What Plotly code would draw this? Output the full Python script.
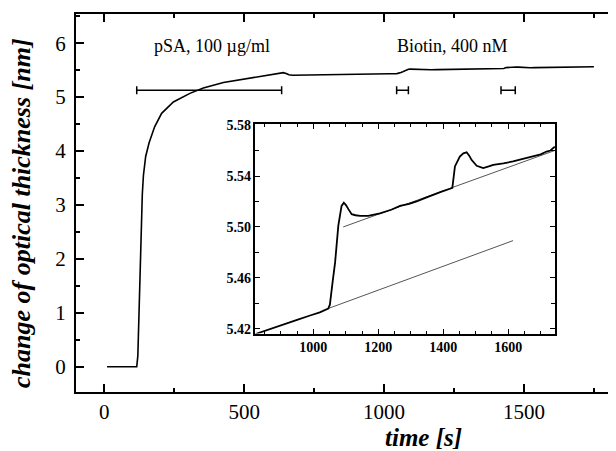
import numpy as np
import plotly.graph_objects as go

# ---- data ----
time_s = [10, 116, 120, 124, 128, 132, 136, 140, 148, 160, 180, 205, 247, 306, 354, 426,
          500, 560, 610, 630, 640, 650, 660, 672, 720, 780, 822, 870, 908, 950, 990, 1020,
          1046, 1051, 1060, 1067, 1077, 1087, 1094, 1101, 1108, 1118, 1130, 1144, 1169,
          1190, 1205, 1240, 1267, 1295, 1318, 1345, 1369, 1395, 1421, 1428, 1436, 1451,
          1462, 1472, 1480, 1487, 1503, 1523, 1540, 1554, 1585, 1615, 1645, 1677, 1700,
          1718, 1730, 1741, 1750]
thickness_nm = [0.0, 0.0, 0.2, 0.9, 1.9, 2.7, 3.2, 3.55, 3.9, 4.15, 4.45, 4.7, 4.91, 5.07,
                5.17, 5.27, 5.33, 5.38, 5.42, 5.44, 5.455, 5.44, 5.415, 5.405, 5.407,
                5.410, 5.416, 5.420, 5.423, 5.427, 5.4305, 5.433, 5.436, 5.439, 5.458,
                5.472, 5.501, 5.5165, 5.519, 5.517, 5.514, 5.510, 5.5092, 5.5087, 5.5087,
                5.5098, 5.5107, 5.5135, 5.5165, 5.5182, 5.520, 5.5228, 5.5255, 5.5278,
                5.530, 5.5307, 5.5475, 5.5553, 5.5578, 5.5586, 5.556, 5.5527, 5.548,
                5.5462, 5.5475, 5.5488, 5.550, 5.5514, 5.5535, 5.5558, 5.5570, 5.5592,
                5.5600, 5.5625, 5.563]

fit1_t = [1046, 1615]
fit1_y = [5.436, 5.4893]
fit2_t = [1092, 1754]
fit2_y = [5.500, 5.561]

bar_start = [116, 1045, 1418]
bar_end = [634, 1087, 1469]
bar_level = [5.13, 5.13, 5.13]

label_text = ["pSA, 100 µg/ml", "Biotin, 400 nM"]
label_x = [385, 1243]
label_y = [5.95, 5.95]

main_xticks = [0, 500, 1000, 1500]
main_yticks = [0, 1, 2, 3, 4, 5, 6]
inset_xticks = [1000, 1200, 1400, 1600]
inset_yticks = [5.42, 5.46, 5.50, 5.54, 5.58]

SERIF = "Liberation Serif"

fig = go.Figure()

# main curve
fig.add_trace(go.Scatter(x=time_s, y=thickness_nm, mode="lines",
                         line=dict(color="black", width=1.6),
                         xaxis="x", yaxis="y", showlegend=False, hoverinfo="skip"))

# injection bars
bs = np.array(bar_start, float)
be = np.array(bar_end, float)
fig.add_trace(go.Scatter(x=(bs + be) / 2, y=bar_level, mode="markers",
                         marker=dict(size=1, color="rgba(0,0,0,0)"),
                         error_x=dict(type="data", array=(be - bs) / 2, color="black",
                                      thickness=1.5, width=4),
                         xaxis="x", yaxis="y", showlegend=False, hoverinfo="skip"))

# right-side ticks helper
fig.add_trace(go.Scatter(x=[time_s[0]], y=[thickness_nm[0]], mode="markers",
                         marker=dict(size=1, color="rgba(0,0,0,0)"),
                         xaxis="x", yaxis="y2", showlegend=False, hoverinfo="skip"))

# inset
fig.add_trace(go.Scatter(x=fit1_t, y=fit1_y, mode="lines",
                         line=dict(color="#555555", width=1),
                         xaxis="x2", yaxis="y3", showlegend=False, hoverinfo="skip"))
fig.add_trace(go.Scatter(x=fit2_t, y=fit2_y, mode="lines",
                         line=dict(color="#555555", width=1),
                         xaxis="x2", yaxis="y3", showlegend=False, hoverinfo="skip"))
fig.add_trace(go.Scatter(x=time_s, y=thickness_nm, mode="lines",
                         line=dict(color="black", width=1.8),
                         xaxis="x2", yaxis="y3", showlegend=False, hoverinfo="skip"))

axis_common = dict(showline=True, linecolor="black", showgrid=False, zeroline=False,
                   ticks="inside", tickcolor="black")

# the page body adds an 8px offset, so the figure is 8px smaller on each far side
fig.update_layout(
    width=608, height=443,
    margin=dict(l=68, r=0, t=4, b=59),
    paper_bgcolor="white", plot_bgcolor="white",
    showlegend=False,
    xaxis=dict(domain=[0, 1], range=[-101, 1829], anchor="y",
               linewidth=2, mirror="ticks", ticklen=8, tickwidth=1.5,
               tickvals=main_xticks,
               minor=dict(dtick=250, tick0=0, ticklen=4, tickwidth=1.5,
                          tickcolor="black", ticks="inside"),
               tickfont=dict(family=SERIF, size=21, color="black"),
               **axis_common),
    yaxis=dict(domain=[0, 1], range=[-0.469, 6.542], anchor="x",
               linewidth=2, ticklen=8, tickwidth=1.5,
               tickvals=main_yticks,
               minor=dict(dtick=0.5, tick0=0, ticklen=4, tickwidth=1.5,
                          tickcolor="black", ticks="inside"),
               tickfont=dict(family=SERIF, size=21, color="black"),
               ticklabelstandoff=4,
               **axis_common),
    yaxis2=dict(overlaying="y", side="right", anchor="x", range=[-0.469, 6.542],
                showline=False, showgrid=False, zeroline=False, ticks="inside",
                ticklen=4, tickwidth=1.5, tickcolor="black", tickvals=main_yticks,
                showticklabels=False),
    xaxis2=dict(domain=[0.3324, 0.887], range=[822, 1744], anchor="y3",
                linewidth=1.5, mirror="ticks", ticklen=5, tickwidth=1.2,
                tickvals=inset_xticks,
                minor=dict(dtick=50, tick0=0, ticklen=3, tickwidth=1.2,
                           tickcolor="black", ticks="inside"),
                tickfont=dict(family=SERIF, size=14, color="black", weight="bold"),
                **axis_common),
    yaxis3=dict(domain=[0.1545, 0.7079], range=[5.4163, 5.5805], anchor="x2",
                linewidth=1.5, mirror="ticks", ticklen=5, tickwidth=1.2,
                tickvals=inset_yticks, tickformat=".2f",
                minor=dict(dtick=0.02, tick0=5.42, ticklen=4, tickwidth=1.2,
                           tickcolor="black", ticks="inside"),
                tickfont=dict(family=SERIF, size=14, color="black", weight="bold"),
                **axis_common),
)

for t, xx, yy in zip(label_text, label_x, label_y):
    fig.add_annotation(x=xx, y=yy, xref="x", yref="y", text=t, showarrow=False,
                       font=dict(family=SERIF, size=18, color="black"),
                       xanchor="center", yanchor="middle")

fig.add_annotation(x=-0.1, y=0.4737, xref="paper", yref="paper",
                   text="change of optical thickness [nm]", textangle=-90,
                   showarrow=False, xanchor="center", yanchor="middle",
                   font=dict(family=SERIF, size=26, color="black",
                             weight="bold", style="italic"))
fig.add_annotation(x=0.644, y=-0.121, xref="paper", yref="paper",
                   text="time [s]", showarrow=False, xanchor="center", yanchor="middle",
                   font=dict(family=SERIF, size=25, color="black",
                             weight="bold", style="italic"))

fig.write_html("out.html")
